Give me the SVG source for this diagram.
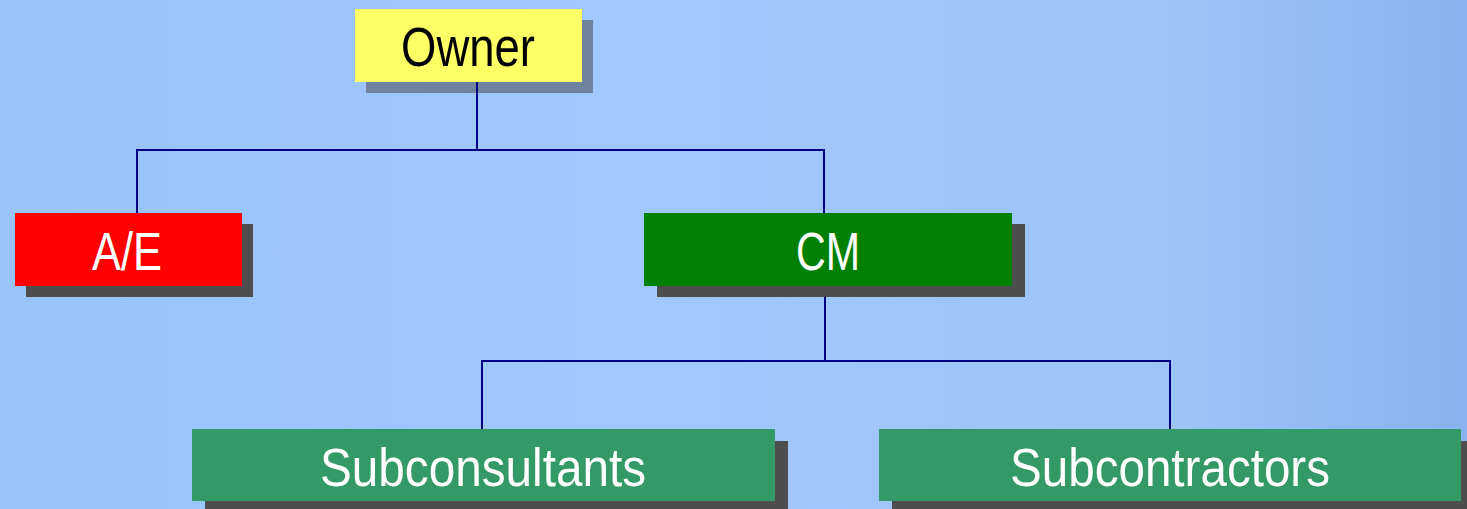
<svg xmlns="http://www.w3.org/2000/svg" width="1467" height="509" viewBox="0 0 1467 509">
<defs>
<linearGradient id="bg" x1="0" y1="0" x2="1" y2="0">
<stop offset="0" stop-color="#98c4fa"/>
<stop offset="0.45" stop-color="#a0c8fc"/>
<stop offset="0.8" stop-color="#9cc4f7"/>
<stop offset="1" stop-color="#87b4ee"/>
</linearGradient>
</defs>
<style>
.sh{fill:#4e4e4e}
.shb{fill:#6f839f}
.lbl{font-family:"Liberation Sans",Arial,sans-serif;font-size:53px;fill:#ffffff;text-anchor:start}
.conn{stroke:#000080;stroke-width:2;fill:none}
</style>
<rect width="1467" height="509" fill="url(#bg)"/>
<g id="connectors">
<polyline class="conn" points="477,82 477,150"/>
<polyline class="conn" points="137,213 137,150 824,150 824,213"/>
<polyline class="conn" points="825,286 825,361"/>
<polyline class="conn" points="482,429 482,361 1170,361 1170,429"/>
</g>
<g id="owner">
<rect class="shb" x="366" y="20" width="227" height="73"/>
<rect x="355" y="9" width="227" height="73" fill="#ffff66"/>
<line class="conn" x1="477" y1="82" x2="477" y2="93"/>
<text class="lbl" x="401" y="66" textLength="134" lengthAdjust="spacingAndGlyphs" style="fill:#000000;font-size:55px">Owner</text>
</g>
<g id="ae">
<rect class="sh" x="26" y="224" width="227" height="73"/>
<rect x="15" y="213" width="227" height="73" fill="#ff0000"/>
<text class="lbl" x="92" y="270" textLength="70" lengthAdjust="spacingAndGlyphs">A/E</text>
</g>
<g id="cm">
<rect class="sh" x="657" y="224" width="368" height="73"/>
<rect x="644" y="213" width="368" height="73" fill="#008000"/>
<text class="lbl" x="796" y="270" textLength="64" lengthAdjust="spacingAndGlyphs">CM</text>
</g>
<g id="subconsultants">
<rect class="sh" x="205" y="441" width="583" height="73"/>
<rect x="192" y="429" width="583" height="72" fill="#339966"/>
<text class="lbl" x="320" y="486" textLength="326" lengthAdjust="spacingAndGlyphs">Subconsultants</text>
</g>
<g id="subcontractors">
<rect class="sh" x="892" y="441" width="583" height="73"/>
<rect x="879" y="429" width="582" height="72" fill="#339966"/>
<text class="lbl" x="1010" y="486" textLength="320" lengthAdjust="spacingAndGlyphs">Subcontractors</text>
</g>
</svg>
